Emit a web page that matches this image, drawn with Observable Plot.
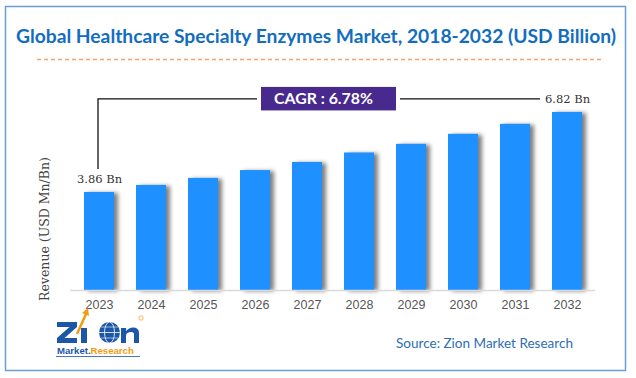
<!DOCTYPE html>
<html>
<head>
<meta charset="utf-8">
<script src="https://cdn.jsdelivr.net/npm/d3@7"></script>
<script src="https://cdn.jsdelivr.net/npm/@observablehq/plot@0.6"></script>
<style>
  html, body { margin: 0; padding: 0; background: #fff; }
  #chart { width: 636px; height: 378px; position: relative; }
</style>
</head>
<body>
<div id="chart"></div>
<script>
// ---- data ----
const years = ["2023", "2024", "2025", "2026", "2027", "2028", "2029", "2030", "2031", "2032"];
const revenue = [3.86, 4.12, 4.38, 4.67, 4.97, 5.32, 5.64, 6.01, 6.38, 6.82];
const titleText = "Global Healthcare Specialty Enzymes Market, 2018-2032 (USD Billion)";
const cagrText = "CAGR : 6.78%";
const yLabel = "Revenue (USD Mn/Bn)";
const sourceText = "Source: Zion Market Research";
const unit = "Bn";

const data = years.map((year, i) => ({year, value: revenue[i]}));
const endpoints = [data[0], data[data.length - 1]];

const plot = Plot.plot({
  width: 636,
  height: 378,
  marginLeft: 70,
  marginRight: 41,
  marginTop: 40,
  marginBottom: 88,
  style: {background: "white", overflow: "visible"},
  x: {domain: years, paddingInner: 0.432, paddingOuter: 0.19, label: null},
  y: {domain: [0.234, 9.48], clamp: true, axis: null},
  marks: [
    Plot.barY(data, {x: "year", y: "value", fill: "#1e90ff"}),
    Plot.ruleY([0], {stroke: "#d9d9d9", strokeWidth: 1.5}),
    Plot.axisX({tickSize: 0, tickPadding: 10, fontSize: 12.5, fill: "#555"}),
    Plot.text(endpoints, {
      x: "year", y: "value", text: d => `${d.value} ${unit}`, dy: -13,
      fontSize: 11.5, fill: "#333", fontFamily: "DejaVu Serif"
    })
  ]
});

document.getElementById("chart").appendChild(plot);
const svg = d3.select(plot);
svg.selectAll("g[aria-label='x-axis tick label'] text, g[aria-label='x-axis tick label']")
  .attr("font-family", "Liberation Sans, Arial, sans-serif");
svg.select("g[aria-label='bar']").style("filter", "drop-shadow(4px 1px 2px rgba(0,0,0,0.5))");

// scales for annotation
const X = plot.scale("x"), Y = plot.scale("y");
const xc = d => X.apply(d) + X.bandwidth / 2;
const first = data[0], last = data[data.length - 1];
const x0 = xc(first.year) - 1;
const yTop = Y.apply(last.value) - 13;
const yBot = Y.apply(first.value) - 23;
const xEnd = xc(last.year) - 27;

const g = svg.append("g").attr("text-anchor", "start");
// border
g.append("rect").attr("x", 5.5).attr("y", 6.5).attr("width", 620).attr("height", 364)
  .attr("fill", "none").attr("stroke", "#6a9fd4").attr("stroke-width", 1.5);
// title
g.append("text").attr("x", 316).attr("y", 43).attr("text-anchor", "middle")
  .attr("font-family", "Lato, sans-serif").attr("font-weight", "bold").attr("font-size", 18)
  .attr("fill", "#126dbf").attr("textLength", 600).attr("lengthAdjust", "spacingAndGlyphs")
  .text(titleText);
// dashed line
g.append("line").attr("x1", 37).attr("x2", 602).attr("y1", 59.5).attr("y2", 59.5)
  .attr("stroke", "#f4a46a").attr("stroke-width", 1.3).attr("stroke-dasharray", "4,3");
// bracket
g.append("path").attr("d", `M${x0},${yBot}V${yTop}H${xEnd}`)
  .attr("fill", "none").attr("stroke", "#111").attr("stroke-width", 1.3);
g.append("rect").attr("x", 257).attr("y", yTop - 14).attr("width", 143).attr("height", 28).attr("fill", "white");
g.append("rect").attr("x", 261).attr("y", yTop - 12).attr("width", 135).attr("height", 23.5).attr("fill", "#482a8f");
g.append("text").attr("x", 274).attr("y", yTop + 5.5).attr("text-anchor", "start")
  .attr("font-family", "Lato, sans-serif").attr("font-weight", "bold").attr("font-size", 16)
  .attr("fill", "white").attr("textLength", 99).attr("lengthAdjust", "spacingAndGlyphs")
  .text(cagrText);
// y label
g.append("text").attr("transform", "translate(45,229) rotate(-90)").attr("text-anchor", "middle")
  .attr("dy", "0.35em").attr("font-family", "DejaVu Serif, serif").attr("font-size", 12.5)
  .attr("fill", "#444").text(yLabel);
// source
g.append("text").attr("x", 396).attr("y", 347.5).attr("text-anchor", "start")
  .attr("font-family", "Lato, sans-serif").attr("font-size", 13)
  .attr("fill", "#2e6eb5").attr("textLength", 177).attr("lengthAdjust", "spacingAndGlyphs")
  .text(sourceText);
// logo (graphic)
const blue = "#1b57a6", orange = "#f39c12";
const logo = g.append("g").attr("text-anchor", "start");
logo.append("path").attr("d", "M57,322H77V327L64.5,338H77V343H57V338L69.5,327H57Z").attr("fill", blue);
logo.append("rect").attr("x", 81).attr("y", 328).attr("width", 6).attr("height", 15).attr("fill", blue);
logo.append("path").attr("d", "M77,334 L86,314").attr("stroke", orange).attr("stroke-width", 2.5).attr("fill", "none");
logo.append("path").attr("d", "M82,313 L88,308 L89,316 Z").attr("fill", orange);
logo.append("circle").attr("cx", 109.5).attr("cy", 332.5).attr("r", 10.5).attr("fill", blue);
logo.append("ellipse").attr("cx", 109.5).attr("cy", 332.5).attr("rx", 5).attr("ry", 10.5)
  .attr("fill", "none").attr("stroke", "white").attr("stroke-width", 0.8);
logo.append("line").attr("x1", 99).attr("x2", 120).attr("y1", 332.5).attr("y2", 332.5).attr("stroke", "white").attr("stroke-width", 0.8);
logo.append("line").attr("x1", 101).attr("x2", 118).attr("y1", 327).attr("y2", 327).attr("stroke", "white").attr("stroke-width", 0.6);
logo.append("line").attr("x1", 101).attr("x2", 118).attr("y1", 338).attr("y2", 338).attr("stroke", "white").attr("stroke-width", 0.6);
logo.append("path").attr("d", "M121,343V328H126V331Q129,327.5 133,327.5Q139,327.5 139,333V343H134V334.5Q134,332 131.5,332Q126,332 126,336V343Z").attr("fill", blue);
logo.append("circle").attr("cx", 141).attr("cy", 318).attr("r", 2.2).attr("fill", "none").attr("stroke", orange).attr("stroke-width", 0.7);
const mr = logo.append("text").attr("x", 57).attr("y", 354).attr("font-family", "Liberation Sans, Arial")
  .attr("font-weight", "bold").attr("font-size", 9.6);
mr.append("tspan").attr("fill", blue).text("Market.");
mr.append("tspan").attr("fill", orange).text("Research");
logo.append("line").attr("x1", 56).attr("x2", 140).attr("y1", 356.5).attr("y2", 356.5)
  .attr("stroke", blue).attr("stroke-width", 0.8);
</script>
</body>
</html>
